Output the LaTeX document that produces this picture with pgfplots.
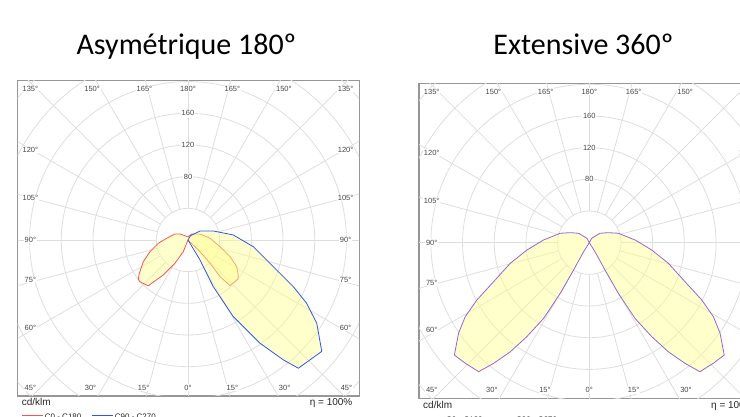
\documentclass[border=0pt]{standalone}
\usepackage{pgfplots}
\pgfplotsset{compat=1.18}
\usepackage{fontspec}
\setmainfont{Liberation Sans}
\newfontfamily\carlito{Carlito}

\definecolor{gridc}{RGB}{222,222,222}
\definecolor{framec}{RGB}{150,150,150}
\definecolor{lobefill}{RGB}{255,255,140}
\definecolor{cred}{RGB}{245,85,85}
\definecolor{cblue}{RGB}{45,85,240}
\definecolor{cpurple}{RGB}{150,100,215}
\definecolor{labc}{RGB}{70,70,70}

\tikzset{
  lab/.style={font=\fontsize{7.5}{9}\selectfont, text=labc, fill=white, inner sep=0.6pt},
  small/.style={font=\fontsize{10}{12}\selectfont, inner sep=0pt, text=black!85},
  leg/.style={font=\fontsize{8}{10}\selectfont, inner sep=0pt, text=black!85},
}

% polar grid + angle / ring labels, same on both diagrams
\newcommand\polargrid{
  \pgfplotsinvokeforeach{40,80,...,320}{
    \draw[gridc, line width=0.8pt] (axis cs:0,0) circle[radius=##1];}
  \pgfplotsinvokeforeach{0,15,...,345}{
    \draw[gridc, line width=0.8pt] (axis cs:{40*cos(##1)},{40*sin(##1)}) -- (axis cs:{400*cos(##1)},{400*sin(##1)});}
}
\newcommand\polarlabels{
  \node[lab] at (axis cs:0,80) {80};
  \node[lab] at (axis cs:0,120) {120};
  \node[lab] at (axis cs:0,160) {160};
  % top row
  \node[lab] at (axis cs:-199,190.7) {135°};
  \node[lab] at (axis cs:-121,190.7) {150°};
  \node[lab] at (axis cs:-55,190.7) {165°};
  \node[lab] at (axis cs:0,190.7) {180°};
  \node[lab] at (axis cs:56,190.7) {165°};
  \node[lab] at (axis cs:121,190.7) {150°};
  \node[lab] at (axis cs:199,190.7) {135°};
  % sides
  \node[lab] at (axis cs:-199,113.6) {120°};
  \node[lab] at (axis cs:-199,53) {105°};
  \node[lab] at (axis cs:-199,0) {90°};
  \node[lab] at (axis cs:-199,-50.5) {75°};
  \node[lab] at (axis cs:-199,-110.7) {60°};
  \node[lab] at (axis cs:199,113.6) {120°};
  \node[lab] at (axis cs:199,53) {105°};
  \node[lab] at (axis cs:199,0) {90°};
  \node[lab] at (axis cs:199,-50.5) {75°};
  \node[lab] at (axis cs:199,-110.7) {60°};
  % bottom row
  \node[lab] at (axis cs:-199,-186.5) {45°};
  \node[lab] at (axis cs:-123,-186.5) {30°};
  \node[lab] at (axis cs:-56,-186.5) {15°};
  \node[lab] at (axis cs:0,-186.5) {0°};
  \node[lab] at (axis cs:56,-186.5) {15°};
  \node[lab] at (axis cs:122,-186.5) {30°};
  \node[lab] at (axis cs:200,-186.5) {45°};
}

\pgfplotsset{
  polarframe/.style={
    anchor=south west, scale only axis,
    width=341.4pt, height=315.2pt,
    xmin=-215, xmax=216, ymin=-197, ymax=201,
    xtick=\empty, ytick=\empty,
    axis line style={framec, line width=1.2pt},
    clip=true,
  }
}

\begin{document}
\begin{tikzpicture}
\useasboundingbox (0pt,0pt) rectangle (740pt,417pt);

% title (mostly above the visible area) and subtitles
\node[anchor=base west, inner sep=0pt, font=\carlito\bfseries\fontsize{38}{40}\selectfont] at (183pt,422pt) {Distribution photométrique};
\node[anchor=base, inner sep=0pt, font=\carlito\fontsize{30}{34}\selectfont] at (186.5pt,362pt) {Asymétrique 180º};
\node[anchor=base, inner sep=0pt, font=\carlito\fontsize{30}{34}\selectfont] at (583.5pt,362pt) {Extensive 360º};

% ---------- Asymetrique 180
\begin{axis}[polarframe, name=L, at={(17.7pt,21pt)}]
\polargrid
% C0 - C180  (angle, cd/klm)
\addplot[data cs=polar, cred, line width=0.8pt, fill=lobefill, fill opacity=0.45] coordinates {
  (-44,0) (-44.3,21.2) (-46.6,40.5) (-48.9,61.5) (-47.3,78.2) (-38,80.1) (-35.6,78.1)
  (-28.7,70.1) (-21.7,57.1) (-11.8,41.3) (4.4,27.9) (26.6,16.9) (58.3,8.9) (90,4)
  (120,5.8) (143.1,12.6) (155.2,18.1) (175.4,27) (186.3,37.7) (197.1,50.2)
  (205.9,62.7) (214.4,74.5) (218.3,80) (221,80.3) (229.2,76.7) (230,71.3)
  (234.8,54.1) (240.8,33.7) (248.1,15.9) (250,0)
};
% C90 - C270
\addplot[data cs=polar, cblue, line width=0.8pt, fill=lobefill, fill opacity=0.45] coordinates {
  (-59,0) (-59,29.5) (-61.6,67) (-59.4,112.5) (-55.1,159) (-51.5,193.5) (-49.3,213.6)
  (-39.8,219.8) (-32.9,193.6) (-28.1,169.8) (-23.9,145.4) (-17.4,112.9) (-5.9,82.9)
  (6.3,57.5) (19.6,33.9) (36.9,18.9) (40,14.3) (60,6) (90,0)
};
\polarlabels
\end{axis}

% ---------- Extensive 360
\begin{axis}[polarframe, name=R, at={(419pt,18.3pt)}]
\polargrid
\addplot[data cs=polar, cpurple, line width=0.8pt, fill=lobefill, fill opacity=0.45] coordinates {
  (-57,0) (-57.7,13.4) (-60.1,39.8) (-60.2,73.6) (-58.9,111.5) (-56.4,142.5) (-54.1,170)
  (-51.6,194.4) (-49.4,214.6) (-44.2,218.4) (-39.8,221.7) (-34.7,200.8) (-30.8,182.3)
  (-27,159.3) (-22.2,130.5) (-14.6,103.1) (-6.7,79.3) (3.4,57.8) (18,38.5) (27.8,27.1)
  (41.3,18) (61.4,6.3) (90,0)
  (118.6,6.3) (138.7,18) (152.2,27.1) (162,38.5) (176.6,57.8) (186.7,79.3) (194.6,103.1)
  (202.2,130.5) (207,159.3) (210.8,182.3) (214.7,200.8) (219.8,221.7) (224.2,218.4)
  (229.4,214.6) (231.6,194.4) (234.1,170) (236.4,142.5) (238.9,111.5) (240.2,73.6)
  (240.1,39.8) (237.7,13.4) (237,0)
};
\polarlabels
\end{axis}

% texts under the frames
\foreach \ax in {L,R}{
  \node[small, anchor=base west] at ([xshift=4pt,yshift=-10pt]\ax.south west) {cd/klm};
  \node[small, anchor=base east] at ([xshift=-6.5pt,yshift=-10pt]\ax.south east) {η = 100\%};
  \draw[cred, line width=0.8pt] ([xshift=4.3pt,yshift=-19pt]\ax.south west) -- ++(21pt,0pt);
  \node[leg, anchor=base west] at ([xshift=27pt,yshift=-23.5pt]\ax.south west) {C0 - C180};
  \draw[cblue, line width=0.8pt] ([xshift=74pt,yshift=-19pt]\ax.south west) -- ++(21.6pt,0pt);
  \node[leg, anchor=base west] at ([xshift=97pt,yshift=-23.5pt]\ax.south west) {C90 - C270};
}
\end{tikzpicture}
\end{document}
